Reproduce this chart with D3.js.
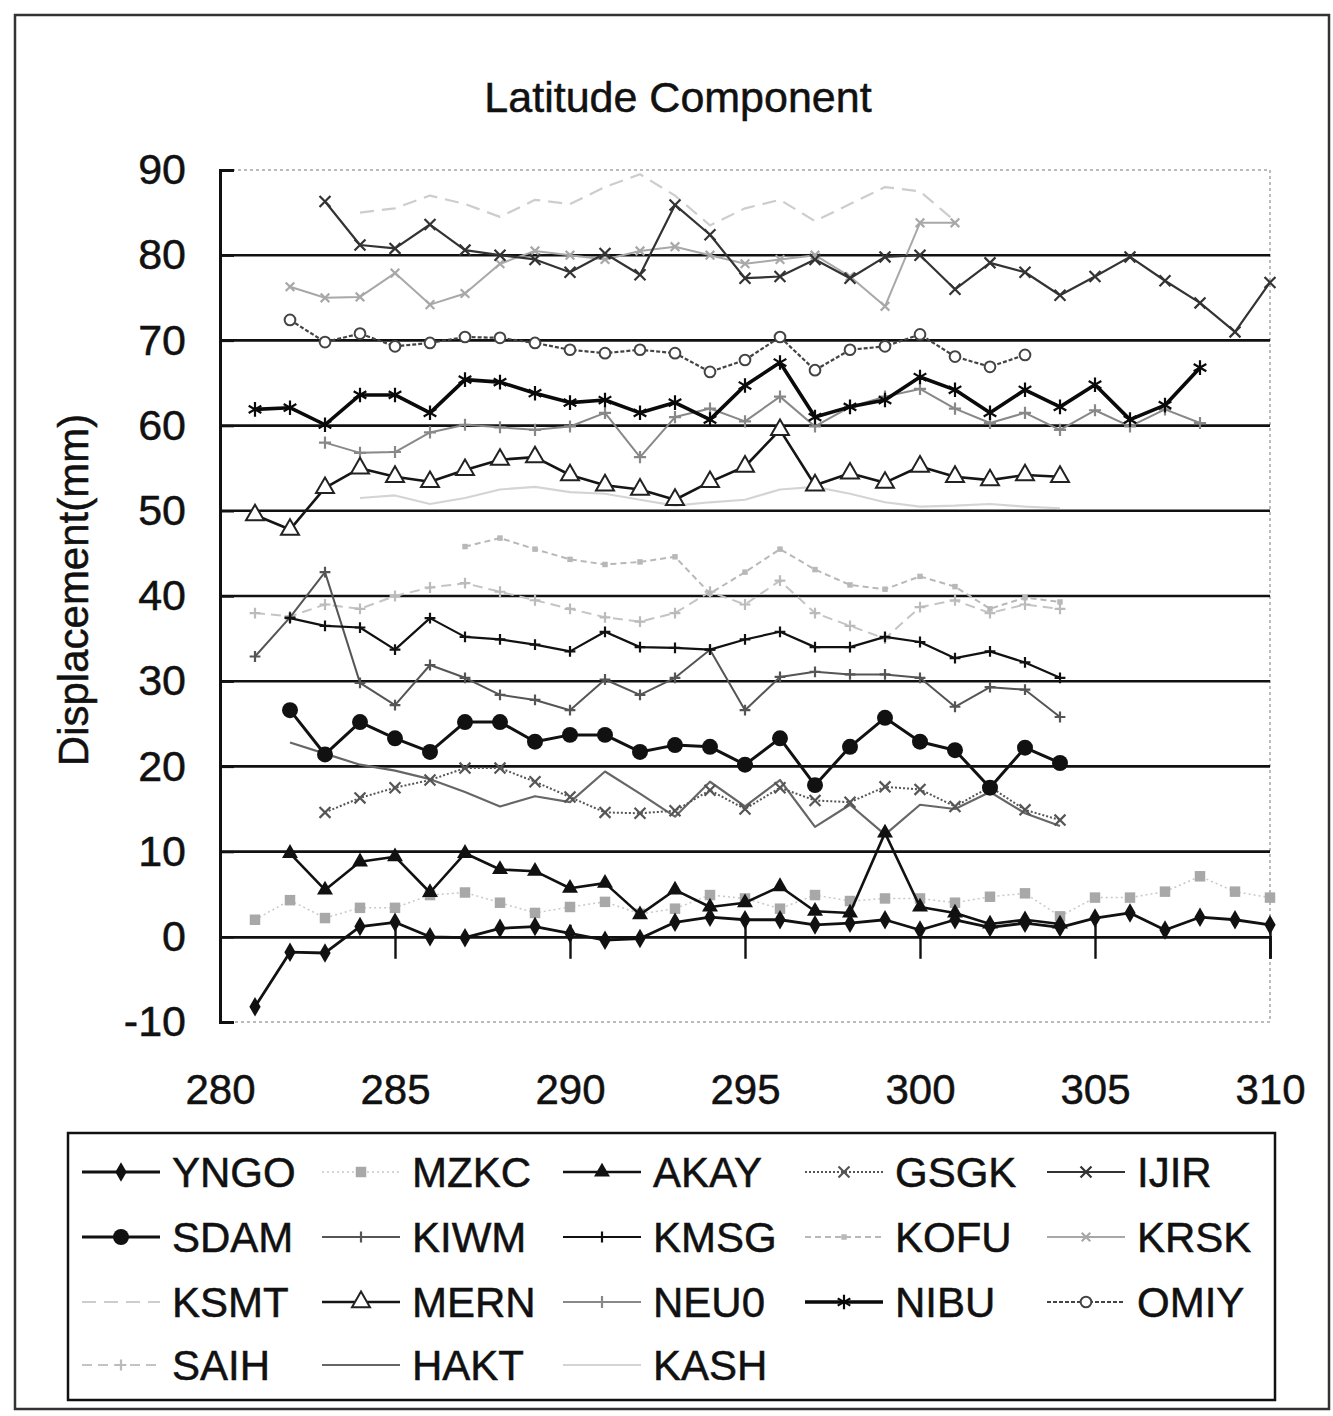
<!DOCTYPE html>
<html>
<head>
<meta charset="utf-8">
<script src="https://cdn.jsdelivr.net/npm/d3@7"></script>
<style>
  body { margin: 0; background: #fff; }
  svg { display: block; }
  text { font-family: "Liberation Sans", Arial, sans-serif; fill: #111; stroke: #111; stroke-width: 0.5px; }
</style>
</head>
<body>
<div id="chart"></div>
<script>
// Latitude component displacements (mm) by day
const stations = ['YNGO', 'MZKC', 'AKAY', 'GSGK', 'IJIR', 'SDAM', 'KIWM', 'KMSG', 'KOFU', 'KRSK',
  'KSMT', 'MERN', 'NEU0', 'NIBU', 'OMIY', 'SAIH', 'HAKT', 'KASH'];
const firstDay = [281, 281, 282, 283, 283, 282, 281, 282, 287, 282, 284, 281, 283, 281, 282, 281, 282, 284];

const YNGO = [-8.2, -1.8, -1.9, 1.2, 1.7, 0.0, -0.1, 1.0, 1.2, 0.4, -0.4, -0.2, 1.7, 2.3, 2.0, 2.0, 1.4, 1.6, 2.0, 0.8, 2.0, 1.1, 1.6, 1.1, 2.2, 2.8, 0.8, 2.3, 2.0, 1.4];
const MZKC = [2.0, 4.3, 2.2, 3.4, 3.4, 4.9, 5.2, 4.0, 2.8, 3.5, 4.1, 2.7, 3.3, 4.9, 4.5, 3.3, 4.9, 4.2, 4.5, 4.5, 4.0, 4.7, 5.1, 2.4, 4.6, 4.6, 5.3, 7.1, 5.3, 4.6];
const AKAY = [9.8, 5.5, 8.8, 9.4, 5.2, 9.8, 7.9, 7.7, 5.7, 6.3, 2.6, 5.5, 3.5, 4.0, 5.9, 3.0, 2.8, 12.2, 3.5, 2.8, 1.5, 2.0, 1.5];
const GSGK = [14.6, 16.3, 17.5, 18.4, 19.8, 19.8, 18.2, 16.4, 14.6, 14.5, 14.8, 17.2, 15.0, 17.5, 16.0, 15.8, 17.6, 17.3, 15.3, 17.6, 14.9, 13.7];
const IJIR = [86.3, 81.2, 80.8, 83.6, 80.6, 80.0, 79.5, 78.0, 80.2, 77.7, 85.9, 82.4, 77.3, 77.5, 79.5, 77.3, 79.8, 80.0, 76.0, 79.1, 78.0, 75.3, 77.5, 79.8, 77.0, 74.4, 71.0, 76.8];
const SDAM = [26.6, 21.4, 25.2, 23.3, 21.7, 25.2, 25.2, 22.9, 23.7, 23.7, 21.7, 22.5, 22.3, 20.2, 23.3, 17.8, 22.3, 25.7, 22.9, 21.9, 17.5, 22.2, 20.4];
const KIWM = [32.9, 37.5, 42.8, 29.8, 27.2, 31.9, 30.4, 28.4, 27.8, 26.6, 30.2, 28.4, 30.4, 33.7, 26.6, 30.5, 31.1, 30.8, 30.8, 30.4, 27.0, 29.3, 29.0, 25.8];
const KMSG = [37.4, 36.5, 36.3, 33.7, 37.4, 35.2, 34.9, 34.3, 33.5, 35.8, 34.0, 33.9, 33.7, 34.9, 35.8, 34.0, 34.0, 35.2, 34.6, 32.7, 33.5, 32.2, 30.4];
const KOFU = [45.8, 46.8, 45.5, 44.3, 43.7, 44.0, 44.6, 40.3, 42.8, 45.5, 43.1, 41.3, 40.8, 42.3, 41.1, 38.5, 39.8, 39.3];
const KRSK = [76.3, 75.0, 75.1, 77.9, 74.2, 75.5, 79.0, 80.5, 80.0, 79.5, 80.5, 81.0, 80.0, 79.0, 79.5, 80.0, 77.5, 74.0, 83.8, 83.8];
const KSMT = [85.0, 85.5, 87.0, 86.0, 84.5, 86.5, 86.0, 88.0, 89.5, 87.0, 83.5, 85.5, 86.5, 84.0, 86.0, 88.0, 87.5, 84.0];
const MERN = [49.5, 47.8, 52.7, 55.0, 54.0, 53.4, 54.8, 56.0, 56.3, 54.2, 53.0, 52.5, 51.3, 53.4, 55.2, 59.5, 53.0, 54.4, 53.3, 55.2, 54.0, 53.6, 54.2, 54.0];
const NEU0 = [58.0, 56.8, 56.9, 59.2, 60.1, 59.8, 59.5, 59.9, 61.5, 56.3, 61.0, 62.0, 60.5, 63.4, 59.9, 62.2, 63.4, 64.3, 62.0, 60.3, 61.5, 59.5, 61.8, 59.9, 61.9, 60.3];
const NIBU = [61.9, 62.1, 60.1, 63.6, 63.6, 61.5, 65.4, 65.1, 63.8, 62.7, 63.0, 61.5, 62.7, 60.7, 64.7, 67.4, 61.0, 62.2, 63.0, 65.7, 64.2, 61.5, 64.2, 62.2, 64.8, 60.7, 62.4, 66.8];
const OMIY = [72.4, 69.8, 70.8, 69.3, 69.7, 70.4, 70.3, 69.7, 68.9, 68.5, 68.9, 68.5, 66.3, 67.7, 70.4, 66.5, 68.9, 69.3, 70.7, 68.1, 66.9, 68.3];
const SAIH = [38.0, 37.6, 39.0, 38.5, 40.0, 41.0, 41.5, 40.5, 39.5, 38.5, 37.5, 37.0, 38.0, 40.5, 39.0, 41.8, 38.0, 36.5, 35.0, 38.7, 39.5, 38.0, 39.0, 38.5];
const HAKT = [22.8, 21.5, 20.2, 19.5, 18.5, 17.0, 15.3, 16.5, 15.8, 19.4, 16.8, 14.1, 18.2, 15.3, 18.4, 12.9, 15.5, 12.0, 15.5, 15.0, 17.0, 14.5, 13.0];
const KASH = [51.5, 51.8, 50.8, 51.5, 52.5, 52.8, 52.2, 52.0, 51.3, 50.6, 51.0, 51.3, 52.5, 52.8, 52.0, 51.0, 50.5, 50.6, 50.8, 50.5, 50.3];

const seriesValues = [YNGO, MZKC, AKAY, GSGK, IJIR, SDAM, KIWM, KMSG, KOFU, KRSK, KSMT, MERN, NEU0, NIBU, OMIY, SAIH, HAKT, KASH];

const xTicks = [280, 285, 290, 295, 300, 305, 310];
const yTicks = [-10, 0, 10, 20, 30, 40, 50, 60, 70, 80, 90];

// Look of each station (drawn in scanned greys)
const looks = {
  YNGO: { stroke: '#111', w: 2.8, sym: 'diamond', size: 110, fill: '#111' },
  MZKC: { stroke: '#c8c8c8', w: 1.5, dash: '2,3', sym: 'square', size: 110, fill: '#a8a8a8' },
  AKAY: { stroke: '#111', w: 2.6, sym: 'triangle', size: 110, fill: '#111' },
  GSGK: { stroke: '#555', w: 2, dash: '2,2', sym: 'x', size: 80, fill: 'none', mstroke: '#555' },
  IJIR: { stroke: '#333', w: 2.2, sym: 'x', size: 80, fill: 'none', mstroke: '#333' },
  SDAM: { stroke: '#111', w: 3, sym: 'circle', size: 200, fill: '#111' },
  KIWM: { stroke: '#555', w: 2, sym: 'plus', size: 40, fill: 'none', mstroke: '#555' },
  KMSG: { stroke: '#111', w: 2.2, sym: 'plus', size: 40, fill: 'none', mstroke: '#111' },
  KOFU: { stroke: '#b8b8b8', w: 2, dash: '6,4', sym: 'square', size: 30, fill: '#b8b8b8' },
  KRSK: { stroke: '#a8a8a8', w: 2, sym: 'x', size: 50, fill: 'none', mstroke: '#a8a8a8' },
  KSMT: { stroke: '#cdcdcd', w: 2.2, dash: '14,8' },
  MERN: { stroke: '#151515', w: 2.6, sym: 'triangle', size: 140, fill: '#fff', mstroke: '#222' },
  NEU0: { stroke: '#888', w: 2, sym: 'plus', size: 50, fill: 'none', mstroke: '#888' },
  NIBU: { stroke: '#0a0a0a', w: 3.6, sym: 'asterisk', size: 150, fill: 'none', mstroke: '#0a0a0a' },
  OMIY: { stroke: '#444', w: 2.2, dash: '4,2', sym: 'circle', size: 90, fill: '#fff', mstroke: '#444' },
  SAIH: { stroke: '#c4c4c4', w: 2, dash: '10,6', sym: 'plus', size: 40, fill: 'none', mstroke: '#bbb' },
  HAKT: { stroke: '#666', w: 2.2 },
  KASH: { stroke: '#d4d4d4', w: 2.2 }
};

const drawOrder = ['KASH', 'KSMT', 'SAIH', 'KOFU', 'KRSK', 'MZKC', 'NEU0', 'HAKT', 'KIWM', 'GSGK',
  'OMIY', 'IJIR', 'KMSG', 'MERN', 'AKAY', 'YNGO', 'SDAM', 'NIBU'];

const W = 1333, H = 1416;
const svg = d3.select('#chart').append('svg')
  .attr('width', W).attr('height', H)
  .attr('viewBox', `0 0 ${W} ${H}`);

// Outer frame
svg.append('rect')
  .attr('x', 15).attr('y', 15).attr('width', 1314).attr('height', 1394)
  .attr('fill', 'none').attr('stroke', '#333').attr('stroke-width', 2.5);

const x = d3.scaleLinear().domain([280, 310]).range([220, 1270]);
const y = d3.scaleLinear().domain([-10, 90]).range([1022, 170]);

const symbolTypes = {
  diamond: d3.symbolDiamond,
  square: d3.symbolSquare,
  triangle: d3.symbolTriangle,
  circle: d3.symbolCircle,
  x: d3.symbolX || d3.symbolTimes || d3.symbolCross,
  plus: d3.symbolPlus || d3.symbolCross,
  asterisk: d3.symbolAsterisk || d3.symbolCross
};

// Title
svg.append('text')
  .attr('x', 678).attr('y', 112)
  .attr('text-anchor', 'middle')
  .style('font-size', '43px')
  .text('Latitude Component');

// Y axis title
svg.append('text')
  .attr('transform', 'translate(88,590) rotate(-90)')
  .attr('text-anchor', 'middle')
  .style('font-size', '42px')
  .text('Displacement(mm)');

// Plot area frame (faint dotted)
svg.append('rect')
  .attr('x', x(280)).attr('y', y(90))
  .attr('width', x(310) - x(280)).attr('height', y(-10) - y(90))
  .attr('fill', 'none').attr('stroke', '#bbb').attr('stroke-width', 2)
  .attr('stroke-dasharray', '3,3');

// Horizontal grid lines
svg.append('g')
  .selectAll('line')
  .data(yTicks.filter(v => v > 0 && v < 90))
  .join('line')
  .attr('x1', x(280)).attr('x2', x(310))
  .attr('y1', d => y(d)).attr('y2', d => y(d))
  .attr('stroke', '#111').attr('stroke-width', 2.6);

// Y axis
const yAxis = svg.append('g')
  .attr('transform', `translate(${x(280)},0)`)
  .call(d3.axisLeft(y).tickValues(yTicks).tickSize(-14).tickPadding(34).tickFormat(d => String(d)));
yAxis.select('.domain').attr('stroke', '#111').attr('stroke-width', 3);
yAxis.selectAll('.tick line').attr('stroke', '#111').attr('stroke-width', 2.4);
yAxis.selectAll('text')
  .style('font-size', '43px')
  .style('font-family', '"Liberation Sans", Arial, sans-serif')
  .attr('fill', '#111');

// X axis crossing at zero, ticks cross the line
const xAxis = svg.append('g')
  .attr('transform', `translate(0,${y(0)})`)
  .call(d3.axisBottom(x).tickValues(xTicks.filter(v => v > 280)).tickSize(22).tickFormat(''));
xAxis.select('.domain').attr('stroke', '#111').attr('stroke-width', 2.8);
xAxis.selectAll('.tick line').attr('y1', -12).attr('stroke', '#111').attr('stroke-width', 2.4);

// X tick labels below the plot area
const xLabels = svg.append('g')
  .attr('transform', `translate(0,${y(-10)})`)
  .call(d3.axisBottom(x).tickValues(xTicks).tickSize(0).tickPadding(52).tickFormat(d => String(d)));
xLabels.select('.domain').remove();
xLabels.selectAll('text')
  .style('font-size', '42px')
  .style('font-family', '"Liberation Sans", Arial, sans-serif')
  .attr('fill', '#111');

// Series
const line = d3.line()
  .x(d => x(d.day))
  .y(d => y(d.value));

const series = stations.map((name, i) => ({
  name,
  look: looks[name],
  points: seriesValues[i].map((v, j) => ({ day: firstDay[i] + j, value: v }))
}));
const byName = new Map(series.map(s => [s.name, s]));

function drawMarker(sel, look, size) {
  const type = symbolTypes[look.sym];
  const stroked = look.fill === 'none';
  sel.attr('d', d3.symbol().type(type).size(size || look.size))
    .attr('fill', look.fill)
    .attr('stroke', stroked || look.fill === '#fff' ? (look.mstroke || look.stroke) : 'none')
    .attr('stroke-width', stroked ? 2.2 : 2);
}

const plot = svg.append('g');
drawOrder.forEach(name => {
  const s = byName.get(name);
  const g = plot.append('g');
  g.append('path')
    .datum(s.points)
    .attr('d', line)
    .attr('fill', 'none')
    .attr('stroke', s.look.stroke)
    .attr('stroke-width', s.look.w)
    .attr('stroke-dasharray', s.look.dash || null)
    .attr('stroke-linejoin', 'round');
  if (s.look.sym) {
    g.selectAll('path.m')
      .data(s.points)
      .join('path')
      .attr('class', 'm')
      .attr('transform', d => `translate(${x(d.day)},${y(d.value)})`)
      .call(drawMarker, s.look);
  }
});

// Legend
const legendCols = [82, 322, 563, 805, 1047];
const legendRows = [1172, 1237, 1302, 1365];
svg.append('rect')
  .attr('x', 68).attr('y', 1133).attr('width', 1207).attr('height', 267)
  .attr('fill', 'none').attr('stroke', '#111').attr('stroke-width', 2.5);

const legend = svg.append('g');
series.forEach((s, i) => {
  const lx = legendCols[i % 5];
  const ly = legendRows[Math.floor(i / 5)];
  const item = legend.append('g').attr('transform', `translate(${lx},${ly})`);
  item.append('line')
    .attr('x1', 0).attr('x2', 78)
    .attr('stroke', s.look.stroke)
    .attr('stroke-width', s.look.w)
    .attr('stroke-dasharray', s.look.dash || null);
  if (s.look.sym) {
    item.append('path')
      .attr('transform', 'translate(39,0)')
      .call(drawMarker, s.look);
  }
  item.append('text')
    .attr('x', 90).attr('y', 0).attr('dy', '0.36em')
    .style('font-size', '42px')
    .text(s.name);
});
</script>
</body>
</html>
